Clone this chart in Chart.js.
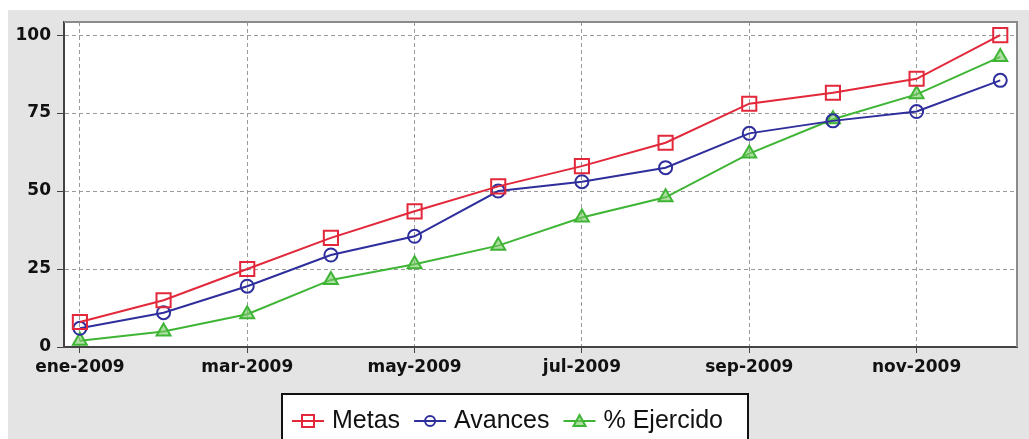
<!DOCTYPE html>
<html>
<head>
<meta charset="utf-8">
<script src="https://cdn.jsdelivr.net/npm/chart.js@4/dist/chart.umd.min.js"></script>
<style>
html,body{margin:0;padding:0;background:#fff;}
#wrap{width:1029px;height:439px;position:relative;}
</style>
</head>
<body>
<div id="wrap"><canvas id="c" width="1029" height="439"></canvas></div>
<script>
const months = ["ene-2009","feb-2009","mar-2009","abr-2009","may-2009","jun-2009","jul-2009","ago-2009","sep-2009","oct-2009","nov-2009","dic-2009"];
const metas    = [8, 15, 25, 35, 43.5, 51.5, 58, 65.5, 78, 81.5, 86, 100];
const avances  = [6, 11, 19.5, 29.5, 35.5, 50, 53, 57.5, 68.5, 72.5, 75.5, 85.5];
const ejercido = [2, 5, 10.5, 21.5, 26.5, 32.5, 41.5, 48, 62, 73, 81, 93];
const seriesNames = ["Metas", "Avances", "% Ejercido"];
const yTicks = [0, 25, 50, 75, 100];

const RED = '#e2283a', BLUE = '#2e2e9c', GREEN = '#3fb536';

function pts(arr){ return arr.map((v,i)=>({x:i,y:v})); }

const bgPlugin = {
  id:'bg',
  beforeDraw(chart){
    const {ctx, chartArea:a} = chart;
    ctx.save();
    ctx.fillStyle='#ffffff';
    ctx.fillRect(0,0,chart.width,chart.height);
    ctx.fillStyle='#e4e4e4';
    ctx.fillRect(8,10,chart.width-8,chart.height-10);
    ctx.fillStyle='#ffffff';
    ctx.fillRect(a.left,a.top,a.right-a.left,a.bottom-a.top);
    ctx.restore();
  },
  afterDraw(chart){
    const {ctx, chartArea:a} = chart;
    ctx.save();
    ctx.strokeStyle='#8a8a8a';
    ctx.lineWidth=2;
    ctx.beginPath();
    ctx.moveTo(a.left,a.top); ctx.lineTo(a.right,a.top); ctx.lineTo(a.right,a.bottom);
    ctx.stroke();
    // legend
    const ds = chart.data.datasets;
    ctx.font = '25px "Liberation Sans", Arial, sans-serif';
    ctx.textBaseline='middle';
    const cy = 421;
    let x = 292;
    const items = ds.map(d=>({d, w:ctx.measureText(d.label).width}));
    const boxL = 282;
    ctx.fillStyle='#fff';
    ctx.fillRect(boxL, 394, 466, 60);
    ctx.strokeStyle='#111';
    ctx.lineWidth=2;
    ctx.strokeRect(boxL, 394, 466, 60);
    items.forEach(({d,w})=>{
      const mx = x+16;
      ctx.strokeStyle=d.borderColor; ctx.lineWidth=2;
      ctx.beginPath(); ctx.moveTo(x,cy); ctx.lineTo(x+32,cy); ctx.stroke();
      ctx.beginPath();
      if(d.pointStyle==='rect'){ ctx.rect(mx-6,cy-6,12,12); }
      else if(d.pointStyle==='circle'){ ctx.arc(mx,cy,5,0,Math.PI*2); }
      else { ctx.moveTo(mx,cy-6); ctx.lineTo(mx+6,cy+5); ctx.lineTo(mx-6,cy+5); ctx.closePath(); ctx.fillStyle=d.pointBackgroundColor; ctx.fill(); }
      ctx.stroke();
      ctx.fillStyle='#111';
      ctx.fillText(d.label, x+40, cy);
      x += 40 + w + 14;
    });
    ctx.restore();
  }
};

new Chart(document.getElementById('c'), {
  type:'line',
  data:{
    datasets:[
      {label:seriesNames[0], data:pts(metas), borderColor:RED, borderWidth:2, pointStyle:'rect', pointRadius:10, pointBorderWidth:2, pointBorderColor:RED, pointBackgroundColor:'rgba(0,0,0,0)'},
      {label:seriesNames[1], data:pts(avances), borderColor:BLUE, borderWidth:2, pointStyle:'circle', pointRadius:6.5, pointBorderWidth:2, pointBorderColor:BLUE, pointBackgroundColor:'rgba(0,0,0,0)'},
      {label:seriesNames[2], data:pts(ejercido), borderColor:GREEN, borderWidth:2, pointStyle:'triangle', pointRadius:8, pointBorderWidth:2, pointBorderColor:GREEN, pointBackgroundColor:'rgba(120,200,100,0.6)'}
    ]
  },
  options:{
    responsive:false,
    animation:false,
    layout:{padding:{left:8,top:22,right:7,bottom:52}},
    plugins:{legend:{display:false}, tooltip:{enabled:false}},
    scales:{
      x:{
        type:'linear', min:-0.19, max:11.2,
        afterFit(s){ s.height = 40; },
        ticks:{stepSize:2, includeBounds:false, autoSkip:false, maxRotation:0, padding:4, color:'#111',
          font:{family:'"DejaVu Sans", sans-serif', size:17, weight:'bold'},
          callback:(v)=> months[v] },
        grid:{color:'#9a9a9a', lineWidth:1, tickLength:6, tickColor:'#444', drawTicks:true},
        border:{display:true, color:'#444', width:2, dash:[4,3]}
      },
      y:{
        min:0, max:104.2,
        afterFit(s){ s.width = 56; },
        afterBuildTicks(s){ s.ticks = yTicks.map(v=>({value:v})); },
        ticks:{color:'#111', padding:6, font:{family:'"DejaVu Sans", sans-serif', size:17, weight:'bold'}},
        grid:{color:'#9a9a9a', lineWidth:1, tickLength:7, tickColor:'#444'},
        border:{display:true, color:'#444', width:2, dash:[4,3]}
      }
    }
  },
  plugins:[bgPlugin]
});
</script>
</body>
</html>
